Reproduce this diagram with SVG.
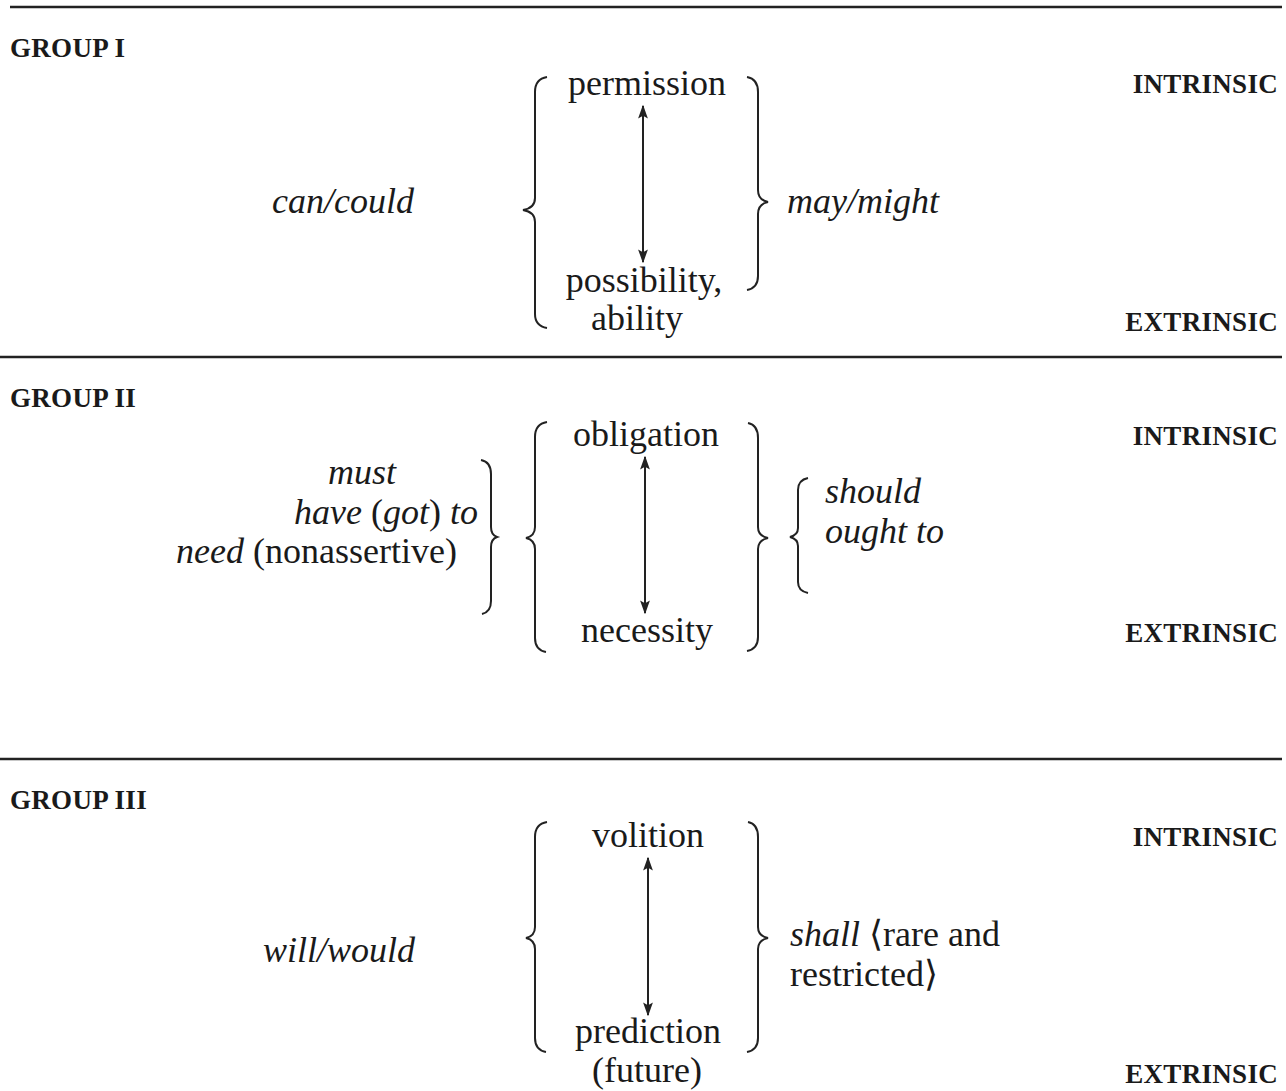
<svg xmlns="http://www.w3.org/2000/svg" width="1286" height="1091" viewBox="0 0 1286 1091">
<style>
.t{font-family:"Liberation Serif","Times New Roman",serif;font-size:36px;fill:#1a1a1a}
.i{font-style:italic}
.g{font-family:"Liberation Serif","Times New Roman",serif;font-size:27px;font-weight:bold;fill:#1a1a1a;letter-spacing:0.3px}
.rule{stroke:#222;stroke-width:2.5}
.br{fill:none;stroke:#222;stroke-width:2}
.ar{stroke:#222;stroke-width:2;marker-start:url(#a);marker-end:url(#a)}
</style>
<defs>
<marker id="a" viewBox="0 0 10 10" refX="9" refY="5" markerWidth="14" markerHeight="14" orient="auto-start-reverse" markerUnits="userSpaceOnUse">
<path d="M0,1.5 L10,5 L0,8.5 L2,5 Z" fill="#222"/>
</marker>
</defs>
<rect width="1286" height="1091" fill="#fff"/>
<g id="rules">
<line class="rule" x1="10" y1="7" x2="1282" y2="7"/>
<line class="rule" x1="0" y1="357" x2="1282" y2="357"/>
<line class="rule" x1="0" y1="759" x2="1282" y2="759"/>
</g>
<g id="group1">
<text class="g" x="10" y="57">GROUP I</text>
<text class="g" x="1278" y="93" text-anchor="end">INTRINSIC</text>
<text class="g" x="1278" y="331" text-anchor="end">EXTRINSIC</text>
<text class="t" x="647" y="95" text-anchor="middle">permission</text>
<text class="t" x="644" y="292" text-anchor="middle">possibility,</text>
<text class="t" x="637" y="330" text-anchor="middle">ability</text>
<text class="t i" x="272" y="213">can/could</text>
<text class="t i" x="787" y="213">may/might</text>
<path class="br" d="M547,77 Q535,79 535,92 L535,198 Q535,208 523,210 Q535,212 535,222 L535,314 Q535,326 547,328"/>
<path class="br" d="M747,77 Q758,79 758,92 L758,190 Q758,200 768,202 Q758,204 758,214 L758,276 Q758,288 747,290"/>
</g>
<g id="group2">
<text class="g" x="10" y="407">GROUP II</text>
<text class="g" x="1278" y="445" text-anchor="end">INTRINSIC</text>
<text class="g" x="1278" y="642" text-anchor="end">EXTRINSIC</text>
<text class="t" x="646" y="446" text-anchor="middle">obligation</text>
<text class="t" x="647" y="642" text-anchor="middle">necessity</text>
<text class="t i" x="328" y="484">must</text>
<text class="t" x="294" y="524"><tspan class="i">have</tspan> (<tspan class="i">got</tspan>) <tspan class="i">to</tspan></text>
<text class="t" x="176" y="563"><tspan class="i">need</tspan> (nonassertive)</text>
<text class="t i" x="825" y="503">should</text>
<text class="t i" x="825" y="543">ought to</text>
<path class="br" d="M547,422 Q535,424 535,437 L535,527 Q535,536 526,538 Q535,540 535,549 L535,638 Q535,650 546,652"/>
<path class="br" d="M748,423 Q758,425 758,438 L758,527 Q758,536 768,538 Q758,540 758,549 L758,637 Q758,649 747,651"/>
<path class="br" d="M481,460 Q491,462 491,474 L491,527 Q491,535 497,537 Q491,539 491,547 L491,601 Q491,612 482,614"/>
<path class="br" d="M808,478 Q798,480 798,490 L798,528 Q798,535 790,537 Q798,539 798,546 L798,582 Q798,591 808,593"/>
</g>
<g id="group3">
<text class="g" x="10" y="809">GROUP III</text>
<text class="g" x="1278" y="846" text-anchor="end">INTRINSIC</text>
<text class="g" x="1278" y="1083" text-anchor="end">EXTRINSIC</text>
<text class="t" x="648" y="847" text-anchor="middle">volition</text>
<text class="t" x="648" y="1043" text-anchor="middle">prediction</text>
<text class="t" x="647" y="1082" text-anchor="middle">(future)</text>
<text class="t i" x="263" y="962">will/would</text>
<text class="t" x="790" y="946"><tspan class="i">shall</tspan> ⟨rare and</text>
<text class="t" x="790" y="986">restricted⟩</text>
<path class="br" d="M547,822 Q535,824 535,837 L535,927 Q535,936 526,938 Q535,940 535,949 L535,1038 Q535,1050 546,1052"/>
<path class="br" d="M748,822 Q758,824 758,837 L758,927 Q758,936 768,938 Q758,940 758,949 L758,1038 Q758,1050 747,1052"/>
</g>
<g id="connectors">
<line class="ar" x1="643" y1="106" x2="643" y2="262"/>
<line class="ar" x1="645" y1="457" x2="645" y2="613"/>
<line class="ar" x1="648" y1="858" x2="648" y2="1015"/>
</g>
</svg>
